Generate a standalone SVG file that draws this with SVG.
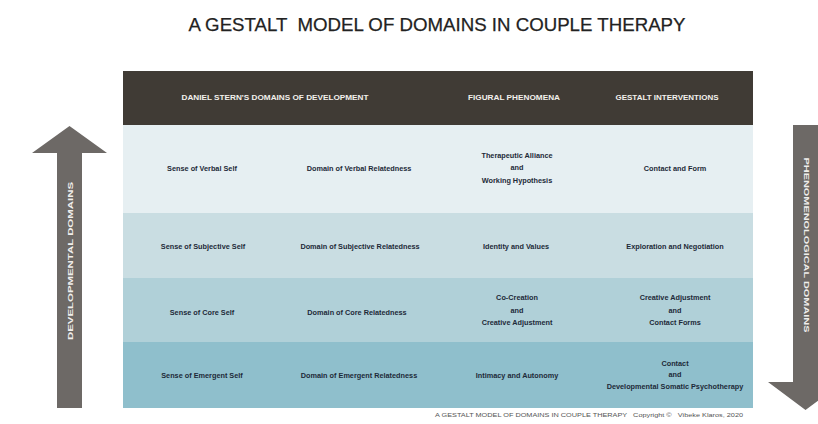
<svg xmlns="http://www.w3.org/2000/svg" width="818" height="424" viewBox="0 0 818 424">
  <style>
    .title { font-family: "Liberation Sans", Arial, sans-serif; font-size: 19px; fill: #222; stroke: #222; stroke-width: 0.25px; }
    .head { font-family: "Liberation Sans", Arial, sans-serif; font-size: 6.6px; font-weight: bold; fill: #f2f0ec; text-anchor: middle; }
    .cell { font-family: "Liberation Sans", Arial, sans-serif; font-size: 7.3px; font-weight: bold; fill: #1d2a38; text-anchor: middle; }
    .side { font-family: "Liberation Sans", Arial, sans-serif; font-size: 8px; font-weight: bold; fill: #f0eeec; text-anchor: middle; }
    .foot { font-family: "Liberation Sans", Arial, sans-serif; font-size: 4.6px; fill: #555; }
    .arrow { fill: #6d6966; }
  </style>

  <rect width="818" height="424" fill="#ffffff"/>

  <text class="title" x="437" y="31" text-anchor="middle" textLength="497" lengthAdjust="spacingAndGlyphs" xml:space="preserve">A GESTALT  MODEL OF DOMAINS IN COUPLE THERAPY</text>

  <!-- side arrows -->
  <g id="arrow-developmental">
    <polygon class="arrow" points="57,408 57,153 32,153 69.5,126 107,153 82,153 82,408"/>
    <text class="side" transform="translate(72.5,261) rotate(-90)" textLength="158" lengthAdjust="spacingAndGlyphs">DEVELOPMENTAL DOMAINS</text>
  </g>
  <g id="arrow-phenomenological">
    <polygon class="arrow" points="793,125 818,125 818,382 843,382 805.5,410 768,382 793,382"/>
    <text class="side" transform="translate(804,245) rotate(90)" textLength="175" lengthAdjust="spacingAndGlyphs">PHENOMENOLOGICAL DOMAINS</text>
  </g>

  <!-- table -->
  <g id="header">
    <rect x="123" y="71" width="630" height="54" fill="#403b35"/>
    <text class="head" x="275" y="100" textLength="187" lengthAdjust="spacingAndGlyphs">DANIEL STERN'S DOMAINS OF DEVELOPMENT</text>
    <text class="head" x="514" y="100" textLength="92" lengthAdjust="spacingAndGlyphs">FIGURAL PHENOMENA</text>
    <text class="head" x="667" y="100" textLength="103" lengthAdjust="spacingAndGlyphs">GESTALT INTERVENTIONS</text>
  </g>

  <g id="row-verbal">
    <rect x="123" y="125" width="630" height="88" fill="#e6eff2"/>
    <text class="cell" x="202" y="171">Sense of Verbal Self</text>
    <text class="cell" x="359" y="171">Domain of Verbal Relatedness</text>
    <text class="cell" x="517" y="158">Therapeutic Alliance</text>
    <text class="cell" x="517" y="170">and</text>
    <text class="cell" x="517" y="183">Working Hypothesis</text>
    <text class="cell" x="675" y="171">Contact and Form</text>
  </g>

  <g id="row-subjective">
    <rect x="123" y="213" width="630" height="65" fill="#c9dde2"/>
    <text class="cell" x="203" y="249">Sense of Subjective Self</text>
    <text class="cell" x="360" y="249">Domain of Subjective Relatedness</text>
    <text class="cell" x="516" y="249">Identity and Values</text>
    <text class="cell" x="675" y="249">Exploration and Negotiation</text>
  </g>

  <g id="row-core">
    <rect x="123" y="278" width="630" height="64" fill="#b0d0d8"/>
    <text class="cell" x="202" y="315">Sense of Core Self</text>
    <text class="cell" x="357" y="315">Domain of Core Relatedness</text>
    <text class="cell" x="517" y="300">Co-Creation</text>
    <text class="cell" x="517" y="313">and</text>
    <text class="cell" x="517" y="325">Creative Adjustment</text>
    <text class="cell" x="675" y="300">Creative Adjustment</text>
    <text class="cell" x="675" y="313">and</text>
    <text class="cell" x="675" y="325">Contact Forms</text>
  </g>

  <g id="row-emergent">
    <rect x="123" y="342" width="630" height="66" fill="#8fbfcc"/>
    <text class="cell" x="202" y="378">Sense of Emergent Self</text>
    <text class="cell" x="359" y="378">Domain of Emergent Relatedness</text>
    <text class="cell" x="517" y="378">Intimacy and Autonomy</text>
    <text class="cell" x="675" y="366">Contact</text>
    <text class="cell" x="675" y="377">and</text>
    <text class="cell" x="675" y="389">Developmental Somatic Psychotherapy</text>
  </g>

  <text class="foot" x="435" y="417" textLength="308" lengthAdjust="spacingAndGlyphs" xml:space="preserve">A GESTALT MODEL OF DOMAINS IN COUPLE THERAPY   Copyright ©   Vibeke Klaros, 2020</text>
</svg>
